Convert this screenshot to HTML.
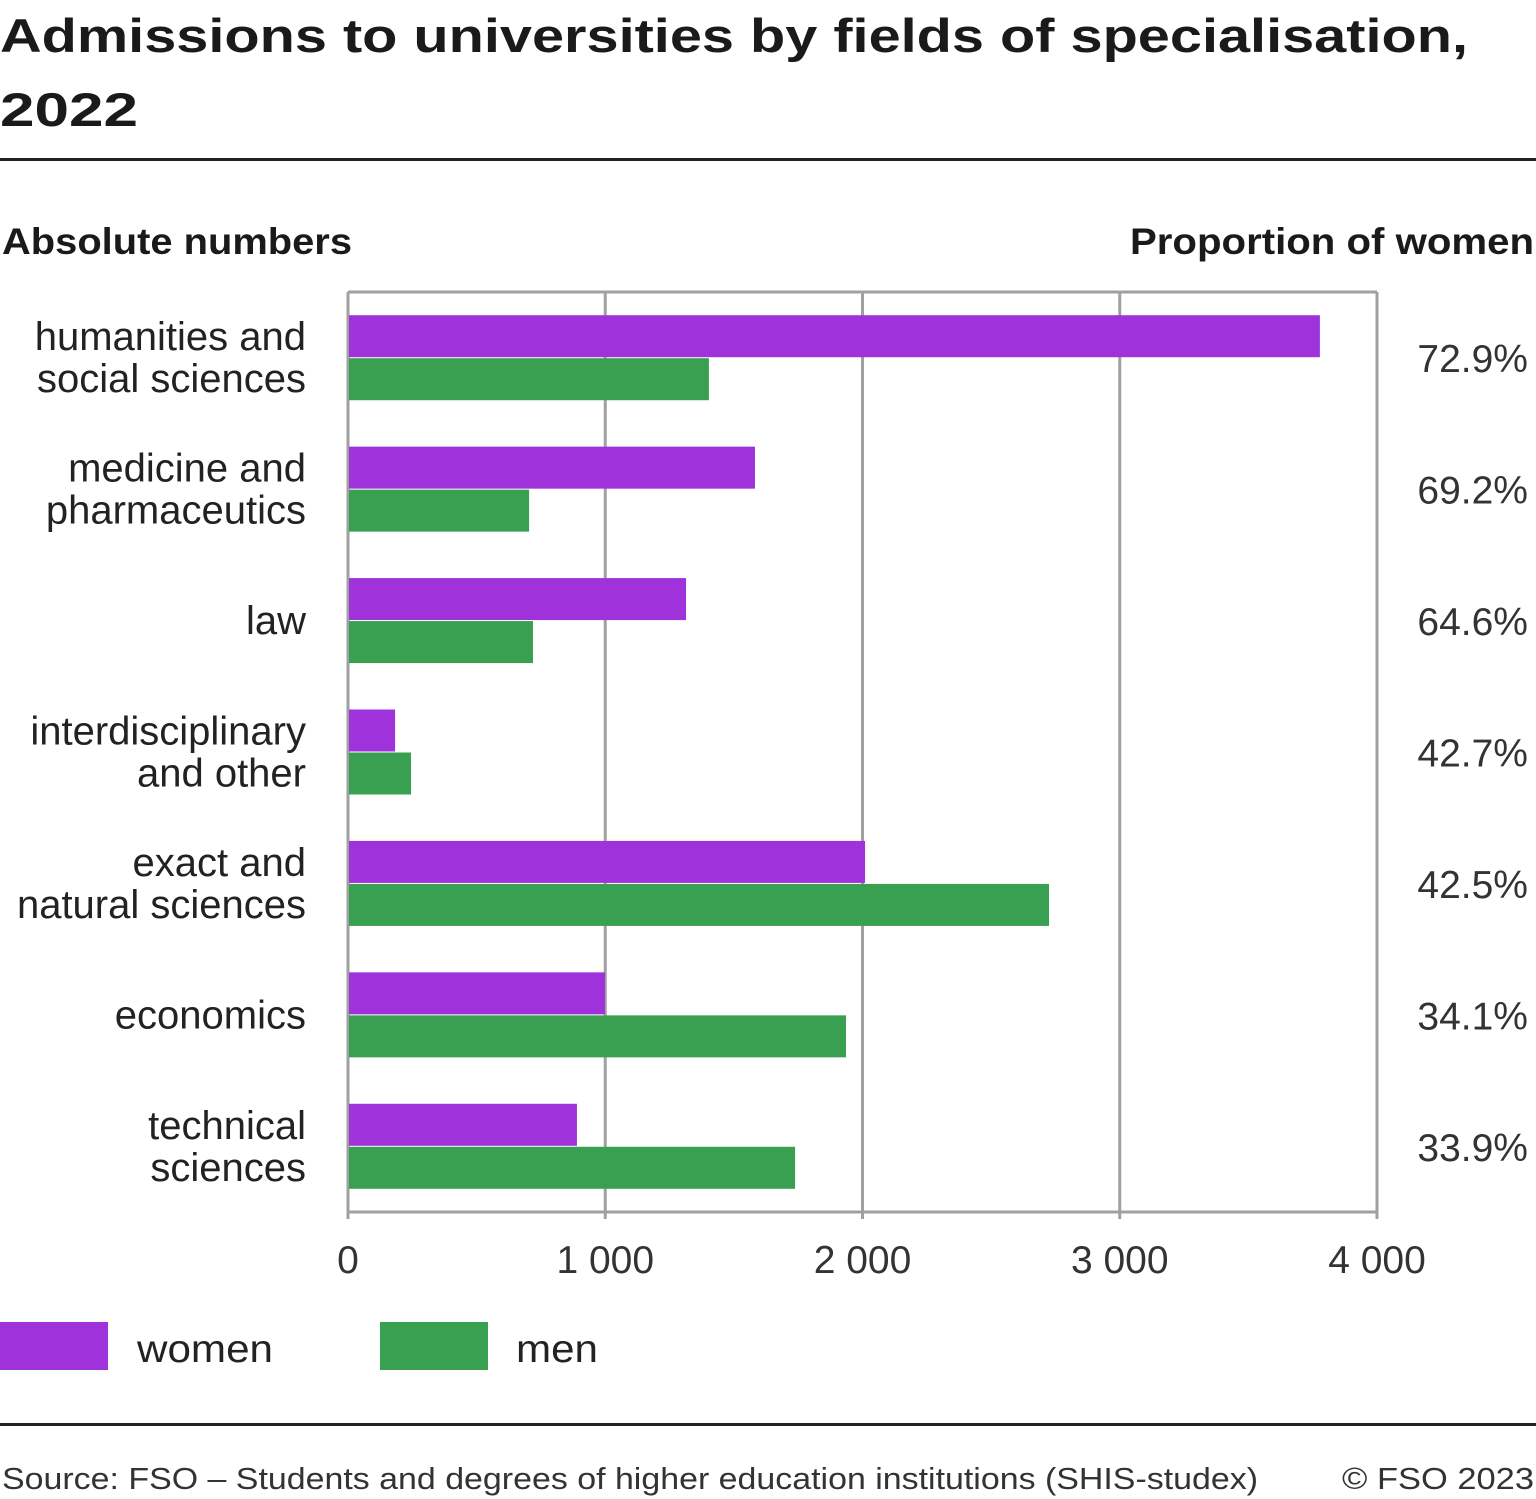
<!DOCTYPE html>
<html><head><meta charset="utf-8">
<style>
html,body{margin:0;padding:0;background:#fff;}
svg{display:block;font-family:"Liberation Sans",sans-serif;}
</style></head>
<body>
<svg id="chart" width="1536" height="1499" viewBox="0 0 1536 1499" xmlns="http://www.w3.org/2000/svg">
<text x="0" y="52" font-size="47" font-weight="bold" fill="#1a1a1a" textLength="1468" lengthAdjust="spacingAndGlyphs">Admissions to universities by fields of specialisation,</text>
<text x="0" y="126" font-size="47" font-weight="bold" fill="#1a1a1a" textLength="138" lengthAdjust="spacingAndGlyphs">2022</text>
<rect x="0" y="158" width="1536" height="3" fill="#222"/>
<text x="2" y="254" font-size="37" font-weight="bold" fill="#1a1a1a" textLength="350" lengthAdjust="spacingAndGlyphs">Absolute numbers</text>
<text x="1130" y="254" font-size="37" font-weight="bold" fill="#1a1a1a" textLength="404" lengthAdjust="spacingAndGlyphs">Proportion of women</text>
<g id="plot"></g>
<rect x="0" y="1322" width="108" height="48" fill="#a032dc"/>
<text x="137" y="1362" font-size="39" fill="#222" textLength="136" lengthAdjust="spacingAndGlyphs">women</text>
<rect x="380" y="1322" width="108" height="48" fill="#38a050"/>
<text x="516" y="1362" font-size="39" fill="#222" textLength="82" lengthAdjust="spacingAndGlyphs">men</text>
<rect x="0" y="1423" width="1536" height="3" fill="#222"/>
<text x="2" y="1489" font-size="31" fill="#333" textLength="1256" lengthAdjust="spacingAndGlyphs">Source: FSO – Students and degrees of higher education institutions (SHIS-studex)</text>
<text x="1342" y="1489" font-size="31" fill="#333" textLength="192" lengthAdjust="spacingAndGlyphs">© FSO 2023</text>
</svg>
<script>
const categories = [["humanities and","social sciences"],["medicine and","pharmaceutics"],["law"],["interdisciplinary","and other"],["exact and","natural sciences"],["economics"],["technical","sciences"]];
const women = [3778, 1582, 1314, 183, 2010, 999, 890];
const men = [1403, 704, 719, 245, 2725, 1936, 1738];
const shares = ["72.9%","69.2%","64.6%","42.7%","42.5%","34.1%","33.9%"];
const ticks = [0, 1000, 2000, 3000, 4000];
const tickLabels = ["0","1 000","2 000","3 000","4 000"];

const NS = "http://www.w3.org/2000/svg";
const plotG = document.getElementById("plot");
const X0 = 348, X1 = 1377, Y0 = 292, Y1 = 1212, MAXV = 4000;
const xs = v => X0 + (v / MAXV) * (X1 - X0);
const bandH = (Y1 - Y0) / categories.length;
function mk(tag, attrs){ const e=document.createElementNS(NS,tag); for(const k in attrs) e.setAttribute(k,attrs[k]); plotG.appendChild(e); return e; }

ticks.forEach((t,i)=>{
  const gl = mk("line",{x1:xs(t),x2:xs(t),y1:Y0,y2:Y1+7,stroke:"#a0a0a0","stroke-width":3});
  
  
  const tl = mk("text",{x:xs(t),y:1273,"font-size":39,fill:"#333","text-anchor":"middle"});
  tl.textContent = tickLabels[i];
  
  
});
const frameTop = mk("line",{x1:X0,x2:X1,y1:Y0,y2:Y0,stroke:"#a0a0a0","stroke-width":3});


const frameBot = mk("line",{x1:X0,x2:X1,y1:Y1,y2:Y1,stroke:"#a0a0a0","stroke-width":3});



categories.forEach((c,i)=>{
  const cy = Y0 + bandH*i + bandH/2 + 0.5;
  const bh = 42;
  const bw = mk("rect",{x:X0+1,y:cy-bh-1,width:xs(women[i])-X0-1,height:bh,fill:"#a032dc"});
  
  
  const bm = mk("rect",{x:X0+1,y:cy,width:xs(men[i])-X0-1,height:bh,fill:"#38a050"});
  
  
  const lh = 42;
  c.forEach((ln,j)=>{
    const t = mk("text",{x:306,y:cy + 13 + (j - (c.length-1)/2)*lh,"font-size":40,fill:"#222","text-anchor":"end"});
    t.textContent = ln;
    
    
  });
  const p = mk("text",{x:1528,y:cy+14,"font-size":39,fill:"#333","text-anchor":"end"});
  p.textContent = shares[i];
  
  
});
</script>
</body></html>
